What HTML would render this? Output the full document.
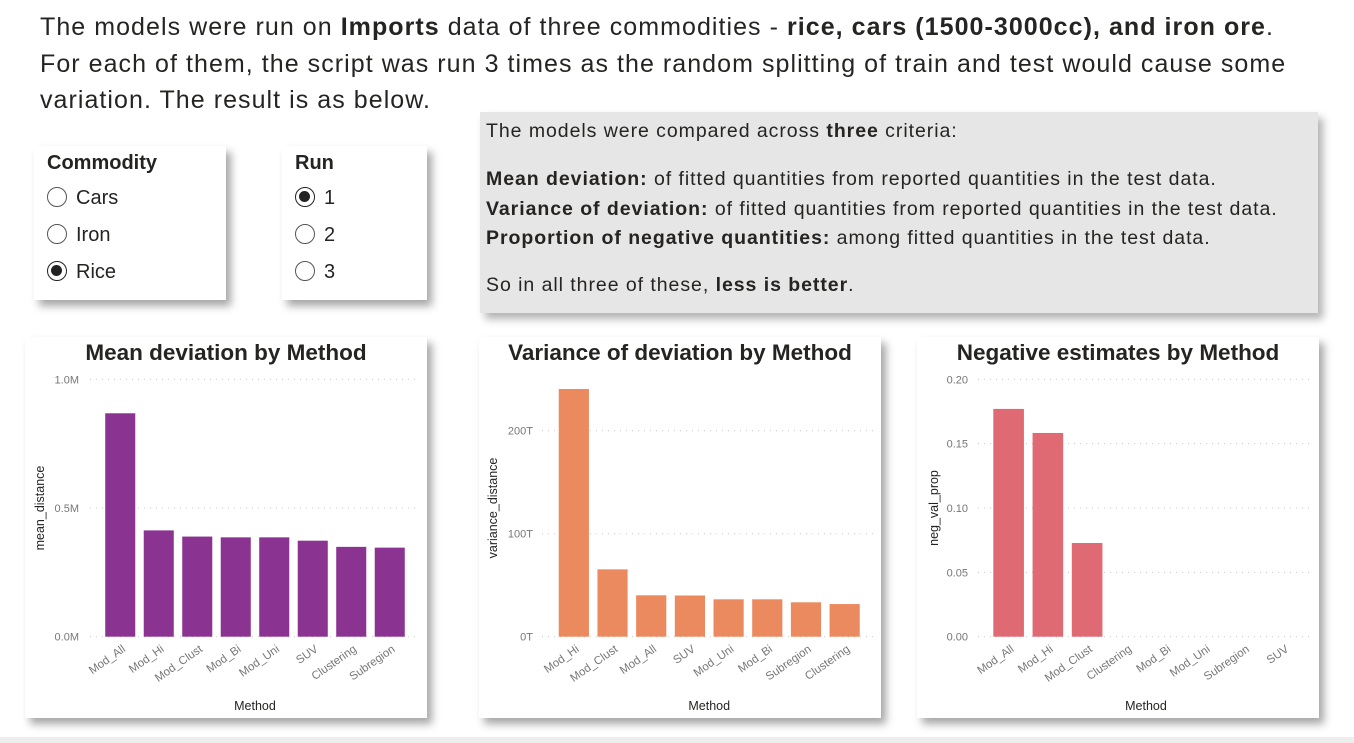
<!DOCTYPE html>
<html><head><meta charset="utf-8">
<style>
body{margin:0;width:1354px;height:743px;background:#fff;position:relative;overflow:hidden;font-family:"Liberation Sans",sans-serif;color:#252423}
.abs{position:absolute}
.card{position:absolute;background:#fff;box-shadow:5px 6px 8px rgba(0,0,0,.35)}
#intro{left:40px;top:9px;width:1310px;font-size:25px;letter-spacing:1.05px;line-height:36.5px;color:#252423;white-space:nowrap}
.slicer-title{position:absolute;left:13px;top:6px;font-weight:bold;font-size:20px}
.opt{position:absolute;left:13px;font-size:20px;height:24px;line-height:24px}
.radio{display:inline-block;width:20px;height:20px;border:1.5px solid #555;border-radius:50%;vertical-align:middle;margin-right:9px;position:relative;top:-2px;box-sizing:border-box}
.radio.on{border:1.5px solid #222}
.radio.on::after{content:"";position:absolute;left:3px;top:3px;width:11px;height:11px;border-radius:50%;background:#222}
#info{left:480px;top:112px;width:838px;height:201px;background:#e6e6e6;font-size:19.5px;letter-spacing:0.95px;box-shadow:5px 6px 8px rgba(0,0,0,.3)}
#info p{margin:0;position:absolute;left:6px;white-space:nowrap}
</style></head><body>
<div id="intro" class="abs">The models were run on <b>Imports</b> data of three commodities - <b>rice, cars (1500-3000cc), and iron ore</b>.<br>For each of them, the script was run 3 times as the random splitting of train and test would cause some<br>variation. The result is as below.</div>

<div class="card" style="left:34px;top:146px;width:192px;height:154px">
<div class="slicer-title">Commodity</div>
<div class="opt" style="top:40px"><span class="radio"></span>Cars</div>
<div class="opt" style="top:77px"><span class="radio"></span>Iron</div>
<div class="opt" style="top:114px"><span class="radio on"></span>Rice</div>
</div>
<div class="card" style="left:282px;top:146px;width:145px;height:154px">
<div class="slicer-title">Run</div>
<div class="opt" style="top:40px"><span class="radio on"></span>1</div>
<div class="opt" style="top:77px"><span class="radio"></span>2</div>
<div class="opt" style="top:114px"><span class="radio"></span>3</div>
</div>

<div id="info" class="abs">
<p style="top:8px">The models were compared across <b>three</b> criteria:</p>
<p style="top:56px"><b>Mean deviation:</b> of fitted quantities from reported quantities in the test data.</p>
<p style="top:86px"><b>Variance of deviation:</b> of fitted quantities from reported quantities in the test data.</p>
<p style="top:115px"><b>Proportion of negative quantities:</b> among fitted quantities in the test data.</p>
<p style="top:162px">So in all three of these, <b>less is better</b>.</p>
</div>

<div class="card" style="left:25px;top:337px;width:402px;height:381px"></div>
<div class="card" style="left:479px;top:337px;width:402px;height:381px"></div>
<div class="card" style="left:917px;top:337px;width:402px;height:381px"></div>
<div class="abs" style="left:0;top:737px;width:1354px;height:6px;background:#eee"></div>

<svg id="charts" class="abs" style="left:0;top:0" width="1354" height="743"></svg>

<script>
const meanCats=["Mod_All","Mod_Hi","Mod_Clust","Mod_Bi","Mod_Uni","SUV","Clustering","Subregion"];
const meanVals=[0.868,0.413,0.389,0.386,0.386,0.373,0.349,0.346];
const meanTicks=[0,0.5,1.0];
const meanTickLabels=["0.0M","0.5M","1.0M"];
const varCats=["Mod_Hi","Mod_Clust","Mod_All","SUV","Mod_Uni","Mod_Bi","Subregion","Clustering"];
const varVals=[240.5,65.4,40.2,40,36.3,36.3,33.4,31.7];
const varTicks=[0,100,200];
const varTickLabels=["0T","100T","200T"];
const negCats=["Mod_All","Mod_Hi","Mod_Clust","Clustering","Mod_Bi","Mod_Uni","Subregion","SUV"];
const negVals=[0.177,0.1583,0.0728,0,0,0,0,0];
const negTicks=[0,0.05,0.10,0.15,0.20];
const negTickLabels=["0.00","0.05","0.10","0.15","0.20"];

const svg=document.getElementById('charts');
const NS="http://www.w3.org/2000/svg";
function mk(tag,attrs,parent){const e=document.createElementNS(NS,tag);for(const k in attrs)e.setAttribute(k,attrs[k]);parent.appendChild(e);return e;}

function chart(o){
  const g=mk('g',{},svg);
  
  
  const y=v=>o.y0-(v-o.min)/(o.max-o.min)*(o.y0-o.y1);
  const bw=(o.x1-o.x0)/o.cats.length;
  const x=i=>o.x0+i*bw;
  const t=mk('text',{x:o.cx,y:360,'text-anchor':'middle','font-size':22.5,'font-weight':'bold',fill:'#252423'},g);
  t.textContent=o.title;
  
  
  o.ticks.forEach((tv,i)=>{
    const l=mk('line',{x1:o.gx0,x2:o.gx1,y1:y(tv),y2:y(tv),stroke:'#c8c8c8','stroke-dasharray':'1,5'},g);
    
    
    const tl=mk('text',{x:o.lx,y:y(tv)+4,'text-anchor':'end','font-size':11,fill:'#777'},g);
    tl.textContent=o.tickLabels[i];
    
    
  });
  o.vals.forEach((v,i)=>{
    const bx=x(i)+bw*0.11, w=bw*0.78;
    if(v>0){
      const r=mk('rect',{x:bx,y:y(v),width:w,height:y(0)-y(v),fill:o.color},g);
      
      
    }
    const cx=x(i)+bw/2+6, cy=o.y0+14;
    const tl=mk('text',{x:cx,y:cy,'text-anchor':'end','font-size':11.5,fill:'#777',transform:`rotate(-35 ${cx} ${cy})`},g);
    tl.textContent=o.cats[i];
    
    
  });
  const yt=mk('text',{x:0,y:0,'text-anchor':'middle','font-size':12.5,fill:'#252423',transform:`translate(${o.ytx},${o.yty}) rotate(-90)`},g);
  yt.textContent=o.yTitle;
  
  
  const xt=mk('text',{x:(o.x0+o.x1)/2,y:710,'text-anchor':'middle','font-size':12.5,fill:'#252423'},g);
  xt.textContent='Method';
  
  
}
chart({name:'mean-deviation-chart',title:'Mean deviation by Method',cx:226,cats:meanCats,vals:meanVals,ticks:meanTicks,tickLabels:meanTickLabels,min:0,max:1.0,y0:636.7,y1:379.3,x0:101,x1:409,gx0:90,gx1:417,lx:79,color:'#8a3391',yTitle:'mean_distance',ytx:44,yty:508});
chart({name:'variance-deviation-chart',title:'Variance of deviation by Method',cx:680,cats:varCats,vals:varVals,ticks:varTicks,tickLabels:varTickLabels,min:0,max:200,y0:636.7,y1:430.7,x0:554.5,x1:864,gx0:542,gx1:877,lx:533,color:'#eb8a5f',yTitle:'variance_distance',ytx:497,yty:508});
chart({name:'negative-estimates-chart',title:'Negative estimates by Method',cx:1118,cats:negCats,vals:negVals,ticks:negTicks,tickLabels:negTickLabels,min:0,max:0.20,y0:636.7,y1:379.3,x0:989,x1:1303,gx0:978,gx1:1310,lx:968,color:'#df6a73',yTitle:'neg_val_prop',ytx:938,yty:508});
</script>
</body></html>
